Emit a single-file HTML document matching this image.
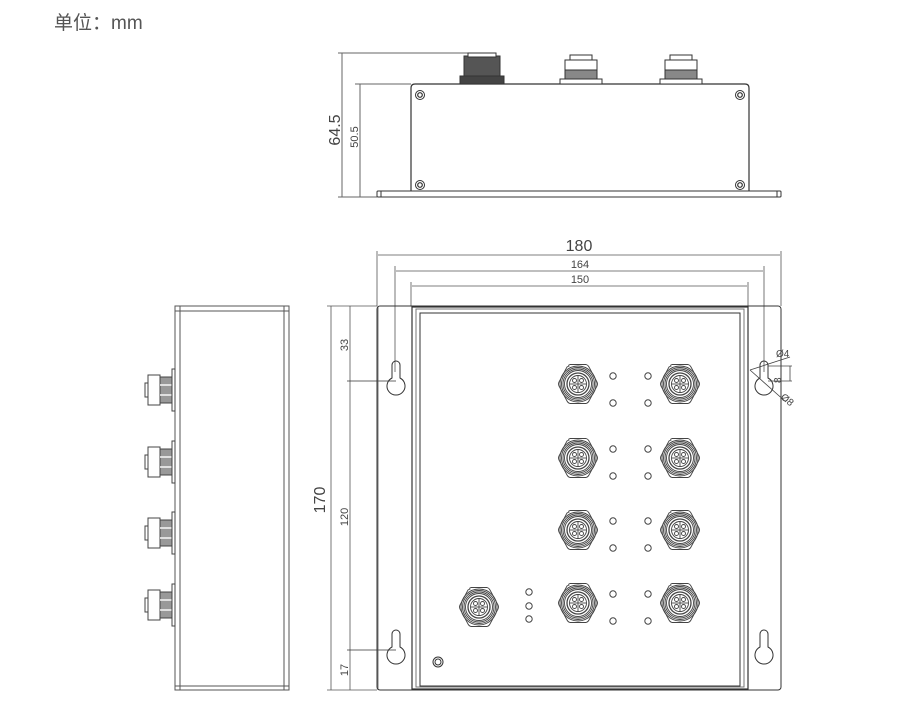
<!DOCTYPE html>
<html><head><meta charset="utf-8"><style>
html,body{margin:0;padding:0;background:#fff;width:924px;height:724px;overflow:hidden}
svg{display:block}
</style></head><body>
<svg width="924" height="724" viewBox="0 0 924 724" xmlns="http://www.w3.org/2000/svg" font-family="Liberation Sans, sans-serif">
<defs>
<symbol id="m12" viewBox="-22 -22 44 44" width="44" height="44" overflow="visible">
<g fill="none" stroke="#444" stroke-width="0.9">
<path d="M-9,-18 Q-10,-19 -8,-19.5 L8,-19.5 Q10,-19 11,-17 L19,-2 Q20,0 19,2 L11,17 Q10,19 8,19.5 L-8,19.5 Q-10,19 -11,17 L-19,2 Q-20,0 -19,-2 L-11,-17 Z"/>
<circle r="18"/><circle r="16.5"/><circle r="15"/><circle r="13.5"/><circle r="11" stroke-width="1.3"/><circle r="8.5"/>
<circle cx="-3.5" cy="-3.5" r="2"/><circle cx="3.5" cy="-3.5" r="2"/><circle cx="-3.5" cy="3.5" r="2"/><circle cx="3.5" cy="3.5" r="2"/>
<line x1="-8" y1="0" x2="8" y2="0"/><line x1="0" y1="-8" x2="0" y2="8"/>
</g>
</symbol>
<symbol id="led" overflow="visible"><circle r="3.2" fill="none" stroke="#444" stroke-width="1"/></symbol>
<symbol id="kh" overflow="visible"><path d="M-4,-3 L-4,-16 A4,4 0 0 1 4,-16 L4,-3 A9,9 0 1 1 -4,-3 Z" fill="none" stroke="#333" stroke-width="1"/></symbol>
<symbol id="side" overflow="visible"><g fill="none" stroke="#444" stroke-width="1">
<rect x="-27" y="-15" width="12" height="30" fill="#fff"/>
<rect x="-30" y="-7" width="3" height="14"/>
<rect x="-15" y="-13" width="12" height="26" fill="#999"/>
<line x1="-15" y1="-5" x2="-3" y2="-5" stroke="#fff" stroke-width="1.4"/>
<line x1="-15" y1="5" x2="-3" y2="5" stroke="#fff" stroke-width="1.4"/>
<path d="M-3,-21 L0,-21 L0,21 L-3,21 Z"/>
<line x1="-3" y1="-16" x2="-3" y2="16"/></g></symbol>
<symbol id="screw" overflow="visible"><circle r="4.5" fill="none" stroke="#333" stroke-width="1"/><circle r="2.3" fill="none" stroke="#333" stroke-width="1.2"/></symbol>
</defs>

<text x="54" y="29" font-size="19" fill="#555" font-family="Liberation Sans, Noto Sans CJK SC, sans-serif">单位：mm</text>

<!-- TOP VIEW -->
<g fill="none" stroke="#333" stroke-width="1">
<line x1="338" y1="53" x2="470" y2="53" stroke="#666"/>
<line x1="342" y1="53" x2="342" y2="197" stroke="#666"/>
<line x1="355" y1="84" x2="411" y2="84" stroke="#666"/>
<line x1="360" y1="84" x2="360" y2="197" stroke="#666"/>
<line x1="338" y1="197" x2="377" y2="197" stroke="#666"/>
<path d="M411,191 L411,88 Q411,84 415,84 L745,84 Q749,84 749,88 L749,191" stroke-width="1.2"/>
<rect x="377" y="191" width="404" height="6" rx="1"/>
<line x1="381" y1="191" x2="381" y2="197"/><line x1="777" y1="191" x2="777" y2="197"/>
</g>
<use href="#screw" x="420" y="95"/><use href="#screw" x="740" y="95"/>
<use href="#screw" x="420" y="185"/><use href="#screw" x="740" y="185"/>
<g stroke="#333" stroke-width="1">
<rect x="464" y="56" width="36" height="20" fill="#555"/>
<rect x="468" y="53" width="28" height="4" fill="#fff"/>
<rect x="460" y="76" width="44" height="8" fill="#444"/>
<rect x="565" y="60" width="32" height="10" fill="#fff"/>
<rect x="565" y="70" width="32" height="9" fill="#888"/>
<rect x="570" y="55" width="22" height="5" fill="#fff"/>
<rect x="560" y="79" width="42" height="5" fill="#fff"/>
<rect x="665" y="60" width="32" height="10" fill="#fff"/>
<rect x="665" y="70" width="32" height="9" fill="#888"/>
<rect x="670" y="55" width="22" height="5" fill="#fff"/>
<rect x="660" y="79" width="42" height="5" fill="#fff"/>
</g>
<text transform="translate(340,130) rotate(-90)" font-size="16" fill="#444" text-anchor="middle">64.5</text>
<text transform="translate(358,137) rotate(-90)" font-size="11" fill="#444" text-anchor="middle">50.5</text>

<!-- SIDE VIEW -->
<g fill="none" stroke="#555" stroke-width="1">
<rect x="175" y="306" width="114" height="384"/>
<line x1="180" y1="306" x2="180" y2="690"/><line x1="284" y1="306" x2="284" y2="690"/>
<line x1="175" y1="311" x2="289" y2="311"/><line x1="175" y1="686" x2="289" y2="686"/>
</g>
<use href="#side" x="175" y="390"/><use href="#side" x="175" y="462"/>
<use href="#side" x="175" y="533"/><use href="#side" x="175" y="605"/>

<!-- FRONT VIEW dims -->
<g stroke="#555" stroke-width="0.8" fill="none">
<line x1="377" y1="251" x2="377" y2="306"/><line x1="781" y1="251" x2="781" y2="306"/>
<line x1="378" y1="255" x2="780" y2="255"/>
<line x1="395" y1="266" x2="395" y2="372"/><line x1="764" y1="266" x2="764" y2="372"/>
<line x1="396" y1="271" x2="763" y2="271"/>
<line x1="411" y1="282" x2="411" y2="306"/><line x1="748" y1="282" x2="748" y2="306"/>
<line x1="412" y1="286" x2="747" y2="286"/>
<line x1="327" y1="306" x2="377" y2="306"/><line x1="327" y1="690" x2="377" y2="690"/>
<line x1="331" y1="306" x2="331" y2="690"/>
<line x1="350" y1="306" x2="350" y2="690"/>
<line x1="347" y1="381" x2="396" y2="381" stroke="#333"/>
<line x1="347" y1="650" x2="396" y2="650" stroke="#333"/>
<line x1="378" y1="306" x2="378" y2="690"/>
</g>
<text x="579" y="251" font-size="16" fill="#444" text-anchor="middle">180</text>
<text x="580" y="268" font-size="11" fill="#444" text-anchor="middle">164</text>
<text x="580" y="283" font-size="11" fill="#444" text-anchor="middle">150</text>
<text transform="translate(325,500) rotate(-90)" font-size="16" fill="#444" text-anchor="middle">170</text>
<text transform="translate(348,345) rotate(-90)" font-size="11" fill="#444" text-anchor="middle">33</text>
<text transform="translate(348,517) rotate(-90)" font-size="11" fill="#444" text-anchor="middle">120</text>
<text transform="translate(348,670) rotate(-90)" font-size="11" fill="#444" text-anchor="middle">17</text>

<g fill="none" stroke="#333" stroke-width="1">
<rect x="377" y="306" width="404" height="384" rx="3"/>
<rect x="412" y="307" width="336" height="382" stroke-width="1.2"/>
<rect x="416" y="309" width="328" height="378" stroke="#777"/>
<rect x="420" y="313" width="320" height="373"/>
</g>
<use href="#kh" x="396" y="381"/><use href="#kh" x="396" y="650"/>
<use href="#kh" x="764" y="381"/><use href="#kh" x="764" y="650"/>
<g stroke="#444" stroke-width="0.8" fill="none">
<line x1="750" y1="370" x2="790" y2="357"/>
<line x1="750" y1="370" x2="786" y2="402"/>
<line x1="768" y1="366" x2="792" y2="366"/><line x1="768" y1="381" x2="792" y2="381"/>
<line x1="790" y1="366" x2="790" y2="381"/>
</g>
<text x="776" y="357" font-size="10" fill="#444">Ø4</text>
<text transform="translate(781,383) rotate(-90)" font-size="10" fill="#444">8</text>
<text transform="translate(780,398) rotate(40)" font-size="10" fill="#444">Ø8</text>

<use href="#m12" x="556" y="362"/><use href="#m12" x="658" y="362"/>
<use href="#m12" x="556" y="436"/><use href="#m12" x="658" y="436"/>
<use href="#m12" x="556" y="508"/><use href="#m12" x="658" y="508"/>
<use href="#m12" x="556" y="581"/><use href="#m12" x="658" y="581"/>
<use href="#m12" x="457" y="585"/>
<use href="#led" x="613" y="376"/><use href="#led" x="648" y="376"/>
<use href="#led" x="613" y="403"/><use href="#led" x="648" y="403"/>
<use href="#led" x="613" y="449"/><use href="#led" x="648" y="449"/>
<use href="#led" x="613" y="476"/><use href="#led" x="648" y="476"/>
<use href="#led" x="613" y="521"/><use href="#led" x="648" y="521"/>
<use href="#led" x="613" y="548"/><use href="#led" x="648" y="548"/>
<use href="#led" x="613" y="594"/><use href="#led" x="648" y="594"/>
<use href="#led" x="613" y="621"/><use href="#led" x="648" y="621"/>
<use href="#led" x="529" y="592"/><use href="#led" x="529" y="606"/><use href="#led" x="529" y="619"/>
<circle cx="438" cy="662" r="5" fill="none" stroke="#333" stroke-width="1"/>
<circle cx="438" cy="662" r="3" fill="none" stroke="#333" stroke-width="1"/>
</svg>
</body></html>
